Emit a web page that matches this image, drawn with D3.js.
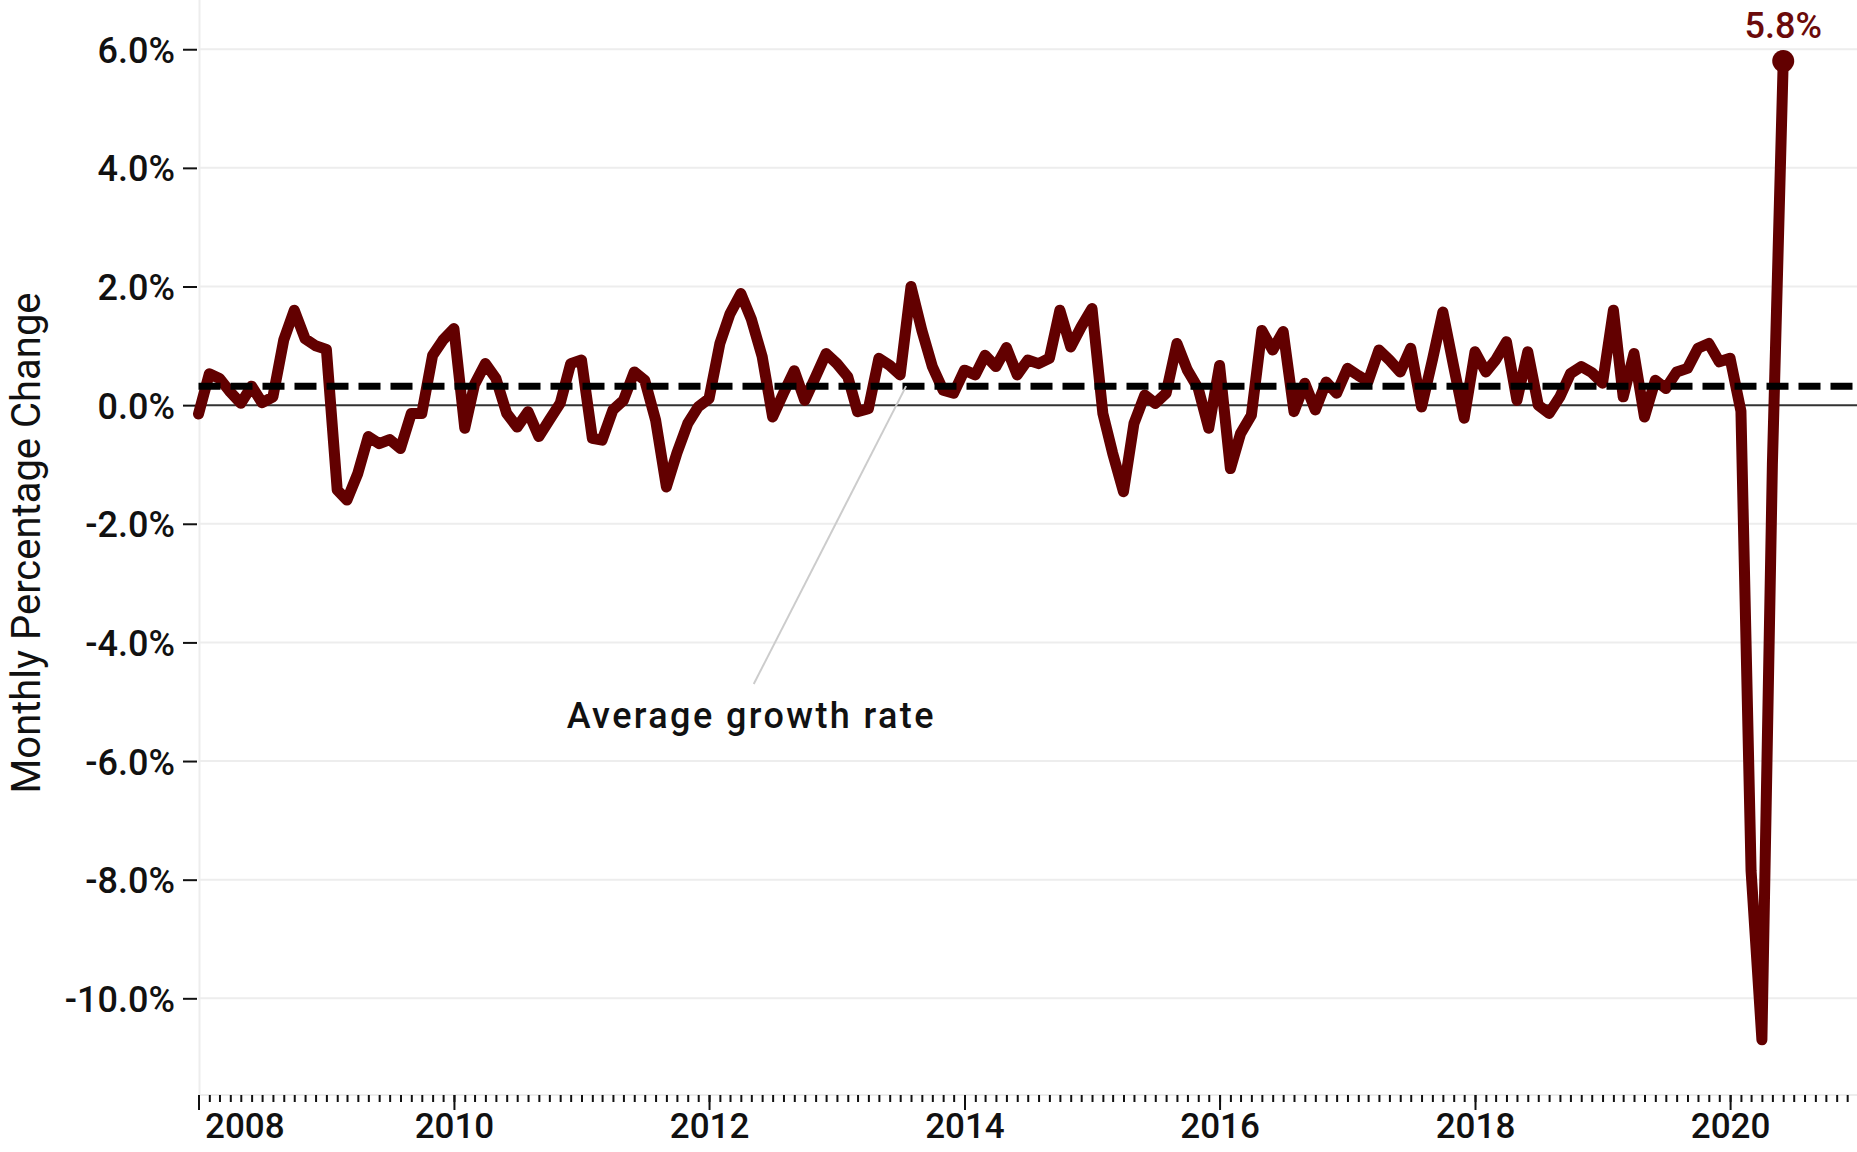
<!DOCTYPE html>
<html>
    <head>
        <meta charset="utf-8">
        <title>Monthly Percentage Change</title>
    </head>
<style>
body {
    margin: 0;
    background: white;
}
text {
    font-family: Roboto, "Noto Sans", sans-serif;
    fill: #111;
}
.axis path {
    display: none;
}
.axis line {
    stroke: #111;
    stroke-width: 2;
}
.axis text {
    font-weight: 500;
}
.grid line {
    stroke: #ededed;
    stroke-width: 2;
}
</style>
<body>
<script src="https://d3js.org/d3.v7.min.js"></script>
<script>

// monthly percentage change, one row per year, starting January 2008
var firstMonth = new Date(2008, 0, 1);
var values = [
    -0.15, 0.53, 0.45, 0.22, 0.03, 0.32, 0.04, 0.14, 1.10, 1.60, 1.12, 1.00,
    0.94, -1.43, -1.60, -1.15, -0.53, -0.65, -0.58, -0.73, -0.14, -0.14, 0.84, 1.10,
    1.29, -0.39, 0.35, 0.70, 0.45, -0.14, -0.37, -0.11, -0.53, -0.25, 0.03, 0.70,
    0.76, -0.56, -0.59, -0.08, 0.08, 0.56, 0.42, -0.25, -1.38, -0.81, -0.31, -0.03,
    0.11, 1.04, 1.54, 1.88, 1.45, 0.82, -0.20, 0.20, 0.58, 0.08, 0.48, 0.87,
    0.70, 0.48, -0.11, -0.06, 0.79, 0.67, 0.51, 2.00, 1.26, 0.65, 0.25, 0.20,
    0.59, 0.51, 0.84, 0.65, 0.97, 0.51, 0.76, 0.70, 0.79, 1.60, 0.98, 1.32,
    1.63, -0.14, -0.81, -1.46, -0.31, 0.17, 0.03, 0.20, 1.04, 0.59, 0.28, -0.39,
    0.67, -1.07, -0.48, -0.17, 1.26, 0.93, 1.24, -0.11, 0.37, -0.08, 0.39, 0.20,
    0.62, 0.50, 0.40, 0.93, 0.76, 0.56, 0.96, -0.03, 0.76, 1.57, 0.65, -0.22,
    0.90, 0.56, 0.76, 1.07, 0.08, 0.90, 0.00, -0.14, 0.14, 0.53, 0.65, 0.55,
    0.37, 1.60, 0.14, 0.87, -0.20, 0.42, 0.28, 0.56, 0.62, 0.96, 1.04, 0.73,
    0.79, -0.10, -7.85, -10.70, -1.00, 5.80
];

// average growth rate (dashed line)
var avgRate = 0.32;

// tick values
var yTicks = [-10, -8, -6, -4, -2, 0, 2, 4, 6];
var xTickYears = [2008, 2010, 2012, 2014, 2016, 2018, 2020];

// annotation: text anchor and the point the leader line goes to
var noteText = "Average growth rate";
var noteDate = new Date(2012, 4, 1), noteValue = -5.45;
var leaderFrom = [new Date(2012, 4, 8), -4.7];
var leaderTo = [new Date(2013, 6, 18), avgRate];

// build the table the line needs
var dataset = values.map(function(v, i) {
    return {date: d3.timeMonth.offset(firstMonth, i), value: v};
});
var last = dataset[dataset.length - 1];

// canvas
var W = 1857, H = 1152;
var margin = {left: 198.5, bottom: 1095};

var svg = d3.select("body")
    .append("svg")
        .attr("width", W)
        .attr("height", H);

// scales
var xScale = d3.scaleTime()
    .domain([new Date(2008, 0, 1), new Date(2021, 0, 1)])
    .range([margin.left, 1858]);

var yScale = d3.scaleLinear()
    .domain([-11.63, 6.83])
    .range([margin.bottom, 0]);

// horizontal gridlines
svg.append("g")
    .attr("class", "grid")
    .selectAll("line")
    .data(yTicks.filter(function(d) { return d != 0; }))
    .enter()
    .append("line")
        .attr("x1", margin.left)
        .attr("x2", W)
        .attr("y1", function(d) { return yScale(d); })
        .attr("y2", function(d) { return yScale(d); });

// left and bottom light frame
svg.append("line")
    .attr("x1", margin.left + 1).attr("x2", margin.left + 1)
    .attr("y1", 0).attr("y2", margin.bottom)
    .attr("stroke", "#ededed")
    .attr("stroke-width", 2);

svg.append("line")
    .attr("x1", margin.left).attr("x2", W)
    .attr("y1", margin.bottom).attr("y2", margin.bottom)
    .attr("stroke", "#ededed")
    .attr("stroke-width", 2);

// zero line
svg.append("line")
    .attr("x1", margin.left).attr("x2", W)
    .attr("y1", yScale(0)).attr("y2", yScale(0))
    .attr("stroke", "#333")
    .attr("stroke-width", 2);

// y axis
var yAxis = d3.axisLeft(yScale)
    .tickValues(yTicks)
    .tickSize(14)
    .tickPadding(8)
    .tickFormat(function(d) {
        return (d < 0 ? "-" : "") + Math.abs(d).toFixed(1) + "%";
    });

svg.append("g")
    .attr("class", "axis")
    .attr("transform", "translate(" + (margin.left - 1.5) + ",0)")
    .call(yAxis)
    .selectAll("text")
        .style("font-size", "36px")
        .attr("dy", "0.36em");

// x axis: monthly minor ticks, bigger ticks every two years
var xMinor = d3.axisBottom(xScale)
    .ticks(d3.timeMonth.every(1))
    .tickSize(7)
    .tickFormat("");

svg.append("g")
    .attr("class", "axis")
    .attr("transform", "translate(0," + margin.bottom + ")")
    .call(xMinor);

var xMajor = d3.axisBottom(xScale)
    .tickValues(xTickYears.map(function(y) { return new Date(y, 0, 1); }))
    .tickSize(15)
    .tickPadding(6)
    .tickFormat(d3.timeFormat("%Y"));

var xg = svg.append("g")
    .attr("class", "axis")
    .attr("transform", "translate(0," + margin.bottom + ")")
    .call(xMajor);

xg.selectAll("text")
    .style("font-size", "35px")
    .attr("y", 18)
    .attr("dy", "0.71em");

// first label is pushed inside the chart
xg.selectAll("text")
    .filter(function(d, i) { return i == 0; })
    .attr("text-anchor", "start")
    .attr("dx", 6);

// y axis title
svg.append("text")
    .attr("transform", "translate(40," + 543 + ") rotate(-90)")
    .attr("text-anchor", "middle")
    .style("font-size", "40px")
    .text("Monthly Percentage Change");

// the series
var line = d3.line()
    .x(function(d) { return xScale(d.date); })
    .y(function(d) { return yScale(d.value); });

svg.append("path")
    .datum(dataset)
    .attr("d", line)
    .attr("fill", "none")
    .attr("stroke", "#620000")
    .attr("stroke-width", 11)
    .attr("stroke-linejoin", "round")
    .attr("stroke-linecap", "round");

// average growth rate
svg.append("line")
    .attr("x1", margin.left).attr("x2", W)
    .attr("y1", yScale(avgRate)).attr("y2", yScale(avgRate))
    .attr("stroke", "black")
    .attr("stroke-width", 7)
    .attr("stroke-dasharray", "22,10");

// annotation
svg.append("line")
    .attr("x1", xScale(leaderFrom[0])).attr("y1", yScale(leaderFrom[1]))
    .attr("x2", xScale(leaderTo[0])).attr("y2", yScale(leaderTo[1]))
    .attr("stroke", "#cccccc")
    .attr("stroke-width", 2);

svg.append("text")
    .attr("x", xScale(noteDate))
    .attr("y", yScale(noteValue))
    .attr("text-anchor", "middle")
    .style("font-size", "36px")
    .style("font-weight", 500)
    .style("letter-spacing", "2.4px")
    .text(noteText);

// last point and its label
svg.append("circle")
    .attr("cx", xScale(last.date))
    .attr("cy", yScale(last.value))
    .attr("r", 11)
    .attr("fill", "#620000");

svg.append("text")
    .attr("x", xScale(last.date))
    .attr("y", yScale(last.value) - 23)
    .attr("text-anchor", "middle")
    .style("font-size", "36px")
    .style("font-weight", 500)
    .style("fill", "#6b0a0a")
    .text(last.value.toFixed(1) + "%");

</script>
</body>
</html>
